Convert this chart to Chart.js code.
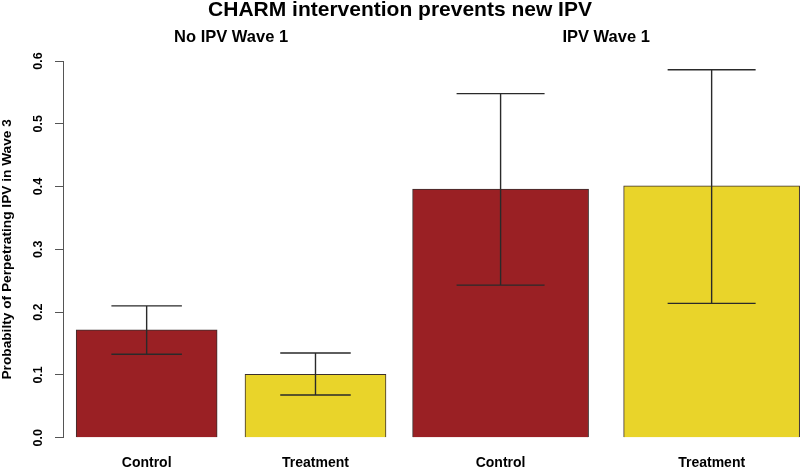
<!DOCTYPE html>
<html lang="en">
<head>
<meta charset="UTF-8">
<title>CHARM intervention prevents new IPV</title>
<script src="https://cdn.jsdelivr.net/npm/chart.js"></script>
<style>
  body { margin: 0; background: #fff; }
  #wrap { width: 800px; height: 468px; }
</style>
</head>
<body>
<div id="wrap"><canvas id="grafico"></canvas></div>
<script>
// data
const groups = ['No IPV Wave 1', 'IPV Wave 1'];
const arms = ['Control', 'Treatment'];
const noIpvProb = [0.172, 0.101];
const noIpvLower = [0.133, 0.068];
const noIpvUpper = [0.210, 0.135];
const ipvProb = [0.396, 0.401];
const ipvLower = [0.243, 0.214];
const ipvUpper = [0.548, 0.586];
const yTicks = [0, 0.1, 0.2, 0.3, 0.4, 0.5, 0.6];

const armColors = ['#9a2024', '#e9d42a'];

// layout: R barplot style, bar width = 1 unit, space = 0.2, right panel drawn a bit wider
const panelStart = [0.0945, 2.485];
const panelUnit = [1, 1.25];
const barCenter = (g, i) => panelStart[g] + panelUnit[g] * (0.5 + i * 1.2);
const allCenters = [barCenter(0, 0), barCenter(0, 1), barCenter(1, 0), barCenter(1, 1)];
const panelCenters = [0, 1].map(g => (barCenter(g, 0) + barCenter(g, 1)) / 2);

Chart.defaults.font.family = "'Liberation Sans', Arial, Helvetica, sans-serif";
Chart.defaults.color = '#000';

const errorBars = {
  id: 'errorBars',
  afterDatasetsDraw(chart) {
    const ctx = chart.ctx;
    const y = chart.scales.y;
    ctx.save();
    ctx.strokeStyle = '#2a2a2a';
    ctx.lineWidth = 1.4;
    chart.data.datasets.forEach((ds, di) => {
      chart.getDatasetMeta(di).data.forEach((bar, i) => {
        const lo = y.getPixelForValue(ds.errLow[i]);
        const hi = y.getPixelForValue(ds.errHigh[i]);
        const half = bar.width / 4;
        ctx.beginPath();
        ctx.moveTo(bar.x, lo); ctx.lineTo(bar.x, hi);
        ctx.moveTo(bar.x - half, lo); ctx.lineTo(bar.x + half, lo);
        ctx.moveTo(bar.x - half, hi); ctx.lineTo(bar.x + half, hi);
        ctx.stroke();
      });
    });
    ctx.restore();
  }
};

const mkData = (g, vals) => vals.map((v, i) => ({ x: barCenter(g, i), y: v }));

new Chart(document.getElementById('grafico'), {
  type: 'bar',
  data: {
    datasets: [
      {
        label: groups[0],
        data: mkData(0, noIpvProb),
        errLow: noIpvLower,
        errHigh: noIpvUpper,
        backgroundColor: armColors,
        borderColor: '#3a2e2e',
        borderWidth: 1,
        barThickness: 141,
        grouped: false
      },
      {
        label: groups[1],
        data: mkData(1, ipvProb),
        errLow: ipvLower,
        errHigh: ipvUpper,
        backgroundColor: armColors,
        borderColor: '#3a2e2e',
        borderWidth: 1,
        barThickness: 176,
        grouped: false
      }
    ]
  },
  options: {
    responsive: true,
    maintainAspectRatio: false,
    animation: false,
    layout: { padding: 0 },
    plugins: {
      legend: { display: false },
      tooltip: { enabled: false },
      title: {
        display: true,
        text: 'CHARM intervention prevents new IPV',
        font: { size: 21, weight: 'bold', lineHeight: 1 },
        color: '#000',
        padding: { top: 0, bottom: 0 }
      }
    },
    scales: {
      x: {
        type: 'linear',
        position: 'bottom',
        min: 0,
        max: 5.238,
        offset: false,
        grid: { display: false, drawTicks: false },
        border: { display: false },
        afterBuildTicks: s => { s.ticks = allCenters.map(v => ({ value: v })); },
        afterFit: s => { s.height = 30.3; },
        ticks: {
          autoSkip: false,
          maxRotation: 0,
          padding: 18.3,
          font: { size: 14, weight: 'bold', lineHeight: 1 },
          callback: (v, i) => arms[i % 2]
        }
      },
      x2: {
        type: 'linear',
        position: 'top',
        min: 0,
        max: 5.238,
        offset: false,
        grid: { display: false, drawTicks: false },
        border: { display: false },
        afterBuildTicks: s => { s.ticks = panelCenters.map(v => ({ value: v })); },
        afterFit: s => { s.height = 40; },
        ticks: {
          autoSkip: false,
          maxRotation: 0,
          padding: 15.3,
          font: { size: 16.5, weight: 'bold', lineHeight: 1 },
          callback: (v, i) => groups[i]
        }
      },
      y: {
        min: 0,
        max: 0.6,
        afterBuildTicks: s => { s.ticks = yTicks.map(v => ({ value: v })); },
        afterFit: s => { s.width = 63; },
        grid: {
          display: true,
          drawOnChartArea: false,
          drawTicks: true,
          tickLength: 8,
          color: '#555'
        },
        border: { display: true, color: '#555', width: 1 },
        ticks: {
          minRotation: 90,
          maxRotation: 90,
          crossAlign: 'center',
          padding: 7.7,
          font: { size: 12.5, weight: 'bold' },
          callback: v => v.toFixed(1)
        },
        title: {
          display: true,
          text: 'Probabilty of Perpetrating IPV in Wave 3',
          font: { size: 13.7, weight: 'bold', lineHeight: 1 },
          color: '#000',
          padding: 0
        }
      }
    }
  },
  plugins: [errorBars]
});
</script>
</body>
</html>
